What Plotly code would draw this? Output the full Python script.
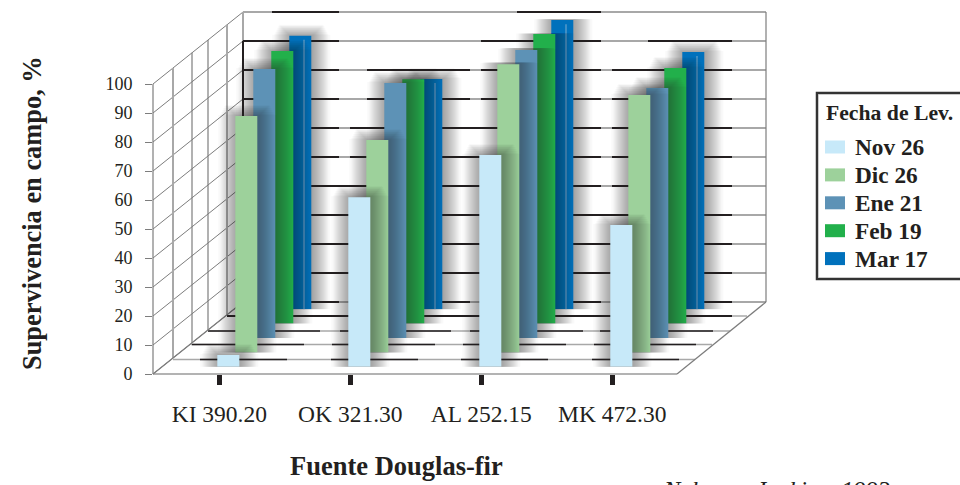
import plotly.graph_objects as go

categories = ["KI 390.20", "OK 321.30", "AL 252.15", "MK 472.30"]
nov_26 = [4.1, 58.5, 73, 48.9]
dic_26 = [81.5, 73.2, 99.4, 88.8]
ene_21 = [92.8, 87.9, 99.3, 86.2]
feb_19 = [94, 84.3, 99.9, 88.1]
mar_17 = [94.3, 79.4, 99.7, 88.7]
series_names = ["Nov 26", "Dic 26", "Ene 21", "Feb 19", "Mar 17"]
series_values = [nov_26, dic_26, ene_21, feb_19, mar_17]
series_colors = ["#c7e9f9", "#9dd19b", "#5d92b6", "#22b04b", "#0071bc"]
y_ticks = list(range(0, 101, 10))

W, H = 960, 485
FRONT_L, FRONT_R, FRONT_B = 153, 677, 374
UNIT = 2.9            # px per value unit
DEPTH_X, DEPTH_Y = 90, 72
CAT_W = (FRONT_R - FRONT_L) / 4
BAR_PX = 22
NUDGE = 0.8 / CAT_W
INK = "#231f20"
FONT = "Liberation Serif"

def px(x): return x / W
def py(y): return 1 - y / H

fig = go.Figure()
shapes, annotations = [], []

def seg(x0, y0, x1, y1, color, width):
    shapes.append(dict(type="line", xref="paper", yref="paper", layer="below",
                       x0=px(x0), y0=py(y0), x1=px(x1), y1=py(y1),
                       line=dict(color=color, width=width)))

GRAY = "#a8a8a8"
WALL = "#7d7d7d"
BACK_L, BACK_R, BACK_B = FRONT_L + DEPTH_X, FRONT_R + DEPTH_X - 1, FRONT_B - DEPTH_Y

# left wall
for v in y_ticks:
    seg(FRONT_L, FRONT_B - UNIT * v, BACK_L, BACK_B - UNIT * v, WALL, 1)
for x, c, w in [(FRONT_L, WALL, 1.2), (173, GRAY, 2), (192, WALL, 1.2), (208, WALL, 1.2), (227, GRAY, 2), (BACK_L, GRAY, 2)]:
    t = (x - FRONT_L) / DEPTH_X
    yb = FRONT_B - DEPTH_Y * t
    seg(x, yb, x, yb - 100 * UNIT, c, w)

# back wall: gray lines with black printed segments
black_runs = {
    100: [(272, 339), (517, 601)],
    90: [(243, 339), (481, 601), (648, 732)],
    80: [(243, 339), (367, 470), (481, 601), (612, 732)],
    70: [(243, 339), (367, 470), (481, 601), (612, 732)],
    60: [(243, 339), (350, 601), (612, 732)],
    50: [(243, 339), (350, 601), (612, 732)],
    40: [(243, 601), (612, 732)],
    30: [(243, 732)],
    20: [(243, 732)],
    10: [(243, 732)],
    0: [(243, 339), (350, 470), (481, 601), (612, 732)],
}
for v in y_ticks:
    y = BACK_B - UNIT * v
    seg(BACK_L, y, BACK_R, y, GRAY, 2)
    for a, b in black_runs[v]:
        seg(a, y, b, y, INK, 2)
seg(BACK_L, BACK_B - 90 * UNIT, BACK_L, BACK_B, INK, 2)
seg(BACK_R, BACK_B, BACK_R, BACK_B - 100 * UNIT, WALL, 1.2)

# floor
floor = [
    (359.5, 173, 695, [(200, 287), (331, 418), (461, 548), (592, 679)]),
    (344.5, 191, 712, [(192, 304), (332, 435), (463, 566), (594, 696)]),
    (331, 208, 730, [(208, 320), (340, 451), (470, 583), (600, 713)]),
    (316, 227, 747, [(227, 732)]),
]
for y, a, b, runs in floor:
    seg(a, y, b, y, GRAY, 1.3)
    for r0, r1 in runs:
        seg(r0, y, r1, y, INK, 1.6 if y > 320 else 2)
seg(FRONT_L, FRONT_B, FRONT_R, FRONT_B, "#9a9a9a", 1.5)
seg(FRONT_L, FRONT_B, BACK_L, BACK_B, WALL, 1.2)
seg(FRONT_R, FRONT_B, BACK_R, BACK_B, WALL, 1.2)

n_layers = len(series_names)
layout_axes = {}

def add_axes(idx, dx, dy, visible=False):
    sx = "" if idx == 1 else str(idx)
    xa = dict(domain=[px(FRONT_L + dx), px(FRONT_R + dx)], range=[-0.5 - NUDGE, 3.5 - NUDGE], type="category",
              categoryorder="array", categoryarray=categories, anchor=f"y{sx}", visible=visible,
              showgrid=False, zeroline=False, fixedrange=True)
    ya = dict(domain=[py(FRONT_B - dy), py(FRONT_B - dy - 100 * UNIT)], range=[0, 100], anchor=f"x{sx}",
              visible=visible, showgrid=False, zeroline=False, fixedrange=True)
    layout_axes[f"xaxis{sx}"] = xa
    layout_axes[f"yaxis{sx}"] = ya
    return f"x{sx}", f"y{sx}"

# (horizontal pad, top pad, bottom pad) of the stacked soft shadow rectangles
SHADOW_STEPS = [(1, 1, 1), (2, 2, 1), (3, 3, 2), (4, 4, 2), (5, 5, 3), (6, 6, 3), (7, 7, 4), (8, 8, 4), (9, 9, 5),
                (10, 10, 5), (11, 11, 6), (12, 10, 6), (13, 8, 7), (14, 6, 7), (15, 4, 8), (16, 2, 8), (18, 1, 9)]
for order, k in enumerate(range(n_layers - 1, -1, -1)):
    dx = DEPTH_X / n_layers * (k + 0.5)
    dy = DEPTH_Y / n_layers * (k + 0.5)
    xa, ya = add_axes(order + 1, dx, dy)
    vals = series_values[k]
    for hp, tp, bp in SHADOW_STEPS:
        w = (BAR_PX + 2 * hp) / CAT_W
        shift = 1.0 / CAT_W
        base = -bp / UNIT
        fig.add_trace(go.Bar(x=categories, y=[v + (tp + bp) / UNIT for v in vals], base=base, width=w,
                             offset=-w / 2 + shift, xaxis=xa, yaxis=ya, cliponaxis=False,
                             marker=dict(color="rgba(25,25,30,0.027)", line=dict(width=0)),
                             showlegend=False, hoverinfo="skip"))
    fig.add_trace(go.Bar(x=categories, y=vals, width=BAR_PX / CAT_W, name=series_names[k], xaxis=xa, yaxis=ya,
                         cliponaxis=False, marker=dict(color=series_colors[k], line=dict(width=0)),
                         showlegend=False))
    if k == n_layers - 1:  # thin lighter edge on the last series
        w = 1.2 / CAT_W
        fig.add_trace(go.Bar(x=categories, y=[v - 1.4 for v in vals], width=w, offset=3.0 / CAT_W,
                             xaxis=xa, yaxis=ya, cliponaxis=False, showlegend=False, hoverinfo="skip",
                             marker=dict(color="#3f8fc6", line=dict(width=0))))

# front axes: native ticks and labels
xa, ya = add_axes(n_layers + 1, 0, 0, visible=True)
sx = str(n_layers + 1)
layout_axes[f"xaxis{sx}"].update(showline=False, ticks="outside", ticklen=10, tickwidth=4.5, tickcolor=INK,
                                 ticklabelstandoff=9, tickfont=dict(family=FONT, size=23.5, color=INK))
layout_axes[f"yaxis{sx}"].update(showline=False, ticks="outside", ticklen=7, tickwidth=1, tickcolor=WALL,
                                 tickvals=y_ticks, ticklabelstandoff=9, tickfont=dict(family=FONT, size=18, color=INK))
fig.add_trace(go.Scatter(x=categories, y=[0] * 4, mode="none", xaxis=xa, yaxis=ya, showlegend=False, hoverinfo="skip"))

def text(x, y, s, size, bold=False, italic=False, anchor="center", angle=0):
    t = f"<b>{s}</b>" if bold else s
    t = f"<i>{t}</i>" if italic else t
    annotations.append(dict(x=px(x), y=py(y), xref="paper", yref="paper", text=t, showarrow=False,
                            xanchor=anchor, yanchor="middle", textangle=angle,
                            font=dict(family=FONT, size=size, color=INK)))

text(32, 213, "Supervivencia en campo, %", 26.4, bold=True, angle=-90)
text(396.5, 466, "Fuente Douglas-fir", 26.5, bold=True)
text(661, 490.5, "Nelson y Jenkins, 1993", 24.5, italic=True, anchor="left")

# legend box
LEG_L, LEG_T, LEG_B = 817, 93, 279
shapes.append(dict(type="rect", xref="paper", yref="paper", layer="above",
                   x0=px(LEG_L), x1=px(W + 5), y0=py(LEG_T), y1=py(LEG_B), line=dict(color="#333333", width=2.5)))
shapes.append(dict(type="rect", xref="paper", yref="paper", layer="above",
                   x0=px(LEG_L + 1.5), x1=px(W + 5), y0=py(LEG_T + 1.5), y1=py(LEG_B - 1.5), line=dict(color="#cccccc", width=0.7)))
text(824, 113, "Fecha de Lev.", 21.7, bold=True, anchor="left")
for i, (name, col) in enumerate(zip(series_names, series_colors)):
    yc = 147 + i * 27.9
    shapes.append(dict(type="rect", xref="paper", yref="paper", layer="above", x0=px(825), x1=px(845),
                       y0=py(yc - 6.5), y1=py(yc + 6.5), fillcolor=col, line=dict(width=0)))
    text(853, yc, name, 23.3, bold=True, anchor="left")

fig.update_layout(width=W, height=H, margin=dict(l=0, r=0, t=0, b=0, autoexpand=False), barmode="overlay",
                  paper_bgcolor="white", plot_bgcolor="rgba(0,0,0,0)", showlegend=False,
                  shapes=shapes, annotations=annotations, **layout_axes)
fig.write_html("out.html", config=dict(displayModeBar=False),
               post_script="document.body.style.margin='0';document.body.style.overflow='hidden';")
